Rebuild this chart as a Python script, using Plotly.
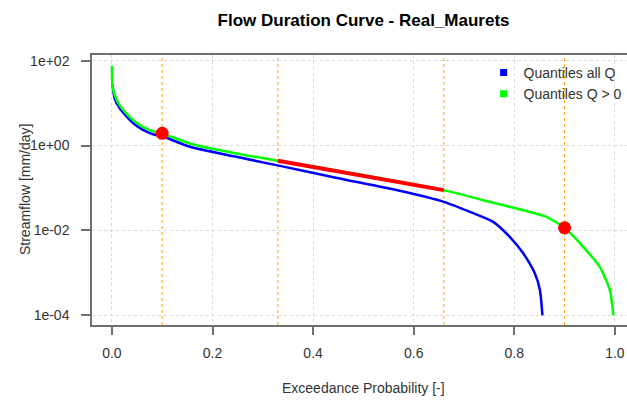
import plotly.graph_objects as go

# exceedance probability / streamflow
p_all = [0.0008, 0.0054, 0.0153, 0.0286, 0.0418, 0.0617, 0.0816, 0.1, 0.155, 0.245,
         0.327, 0.45, 0.572, 0.66, 0.712, 0.758, 0.791, 0.818, 0.841, 0.851, 0.856]
q_all = [28, 13, 7.6, 4.9, 3.4, 2.35, 1.85, 1.65, 0.935, 0.55,
         0.346, 0.17, 0.0857, 0.047, 0.0273, 0.0159, 0.00703, 0.00285, 0.00096, 0.00039, 0.0001]

p_pos = [0.0, 0.001, 0.0054, 0.0153, 0.0286, 0.0418, 0.0617, 0.0816, 0.1, 0.155, 0.245,
         0.33, 0.5, 0.66, 0.738, 0.804, 0.864, 0.9, 0.937, 0.97, 0.99, 0.997]
q_pos = [76, 26.7, 15.5, 9.0, 5.75, 4.0, 2.77, 2.19, 1.94, 1.12, 0.66,
         0.44, 0.2, 0.089, 0.0516, 0.0329, 0.0208, 0.0115, 0.0041, 0.00138, 0.00039, 0.0001]

# mid-segment slope and high/low flow points
p_mid = [0.33, 0.66]
q_mid = [0.44, 0.089]
p_pts = [0.1, 0.9]
q_pts = [1.94, 0.0115]

thresholds = [0.1, 0.33, 0.66, 0.9]

x_ticks = [0.0, 0.2, 0.4, 0.6, 0.8, 1.0]
x_labels = ["0.0", "0.2", "0.4", "0.6", "0.8", "1.0"]
y_ticks = [1e2, 1e0, 1e-2, 1e-4]
y_labels = ["1e+02", "1e+00", "1e-02", "1e-04"]

font = "Liberation Sans, Arial, sans-serif"
axcol = "#707070"

fig = go.Figure()
fig.add_trace(go.Scatter(x=p_all, y=q_all, mode="lines", showlegend=False,
                         line=dict(color="#0000FF", width=2.5, shape="spline", smoothing=0.6)))
fig.add_trace(go.Scatter(x=p_pos, y=q_pos, mode="lines", showlegend=False,
                         line=dict(color="#00FF00", width=2.5, shape="spline", smoothing=0.6)))
fig.add_trace(go.Scatter(x=p_mid, y=q_mid, mode="lines", showlegend=False,
                         line=dict(color="#FF0000", width=4)))
fig.add_trace(go.Scatter(x=p_pts, y=q_pts, mode="markers", showlegend=False,
                         marker=dict(color="#FF0000", size=13)))

# legend entries (squares, as in the R plot)
fig.add_trace(go.Scatter(x=[None], y=[None], mode="markers", name="Quantiles all Q",
                         marker=dict(color="#0000FF", symbol="square", size=7)))
fig.add_trace(go.Scatter(x=[None], y=[None], mode="markers", name="Quantiles Q > 0",
                         marker=dict(color="#00FF00", symbol="square", size=7)))

for t in thresholds:
    fig.add_shape(type="line", xref="x", yref="paper", x0=t, x1=t, y0=0, y1=1,
                  line=dict(color="orange", width=1, dash="dot"), layer="below")

fig.update_xaxes(range=[-0.0396, 1.0241], tickvals=x_ticks, ticktext=x_labels,
                 showline=True, linecolor=axcol, linewidth=1.5, mirror=True,
                 ticks="outside", ticklen=8, tickcolor=axcol, tickwidth=1.5,
                 ticklabelstandoff=6,
                 showgrid=True, gridcolor="#d9d9d9", griddash="dot", gridwidth=1,
                 zeroline=False, tickfont=dict(size=14, color="#333333"))
fig.update_yaxes(type="log", range=[-4.229, 2.134], tickvals=y_ticks, ticktext=y_labels,
                 showline=True, linecolor=axcol, linewidth=1.5,
                 ticks="outside", ticklen=9, tickcolor=axcol, tickwidth=1.5,
                 ticklabelstandoff=9,
                 showgrid=True, gridcolor="#d9d9d9", griddash="dot", gridwidth=1,
                 zeroline=False, tickfont=dict(size=14, color="#333333"))

fig.add_annotation(text="Streamflow [mm/day]", xref="paper", yref="paper",
                   x=-0.1252, y=0.5, xanchor="center", yanchor="middle",
                   textangle=-90, showarrow=False,
                   font=dict(size=14, color="#333333"))
fig.add_annotation(text="Exceedance Probability [-]", xref="paper", yref="paper",
                   x=0.5076, y=-0.2335, xanchor="center", yanchor="middle",
                   showarrow=False, font=dict(size=14, color="#333333"))

fig.update_layout(
    width=627, height=400,
    margin=dict(l=92, r=0, t=55, b=75, autoexpand=False),
    plot_bgcolor="white", paper_bgcolor="white",
    font=dict(family=font, size=14, color="#333333"),
    title=dict(text="<b>Flow Duration Curve - Real_Maurets</b>", x=0.5076, xref="paper",
               xanchor="center", y=0.95, yanchor="middle",
               font=dict(size=17, color="black")),
    legend=dict(x=0.732, y=0.993, xanchor="left", yanchor="top",
                bgcolor="rgba(0,0,0,0)", font=dict(size=14, color="#333333"),
                itemwidth=30, tracegroupgap=0),
)

# page body margin would shift the figure by 8px
fig.write_html("out.html", config={"displayModeBar": False},
               post_script="document.body.style.margin='0';")
